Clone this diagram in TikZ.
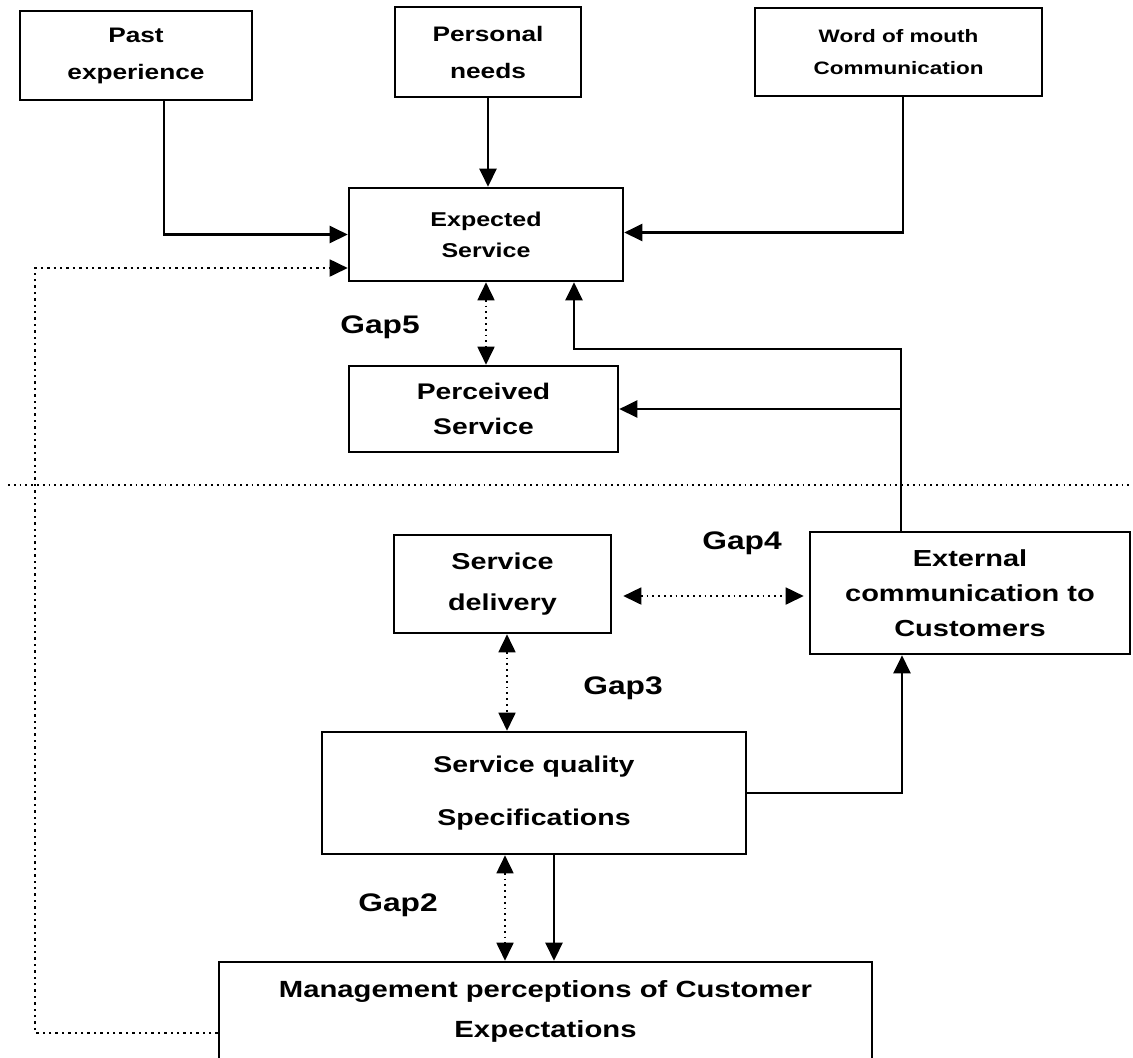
\documentclass[tikz,border=0pt]{standalone}
\usepackage{fontspec}
\setmainfont{Liberation Sans}[FakeStretch=1.25]
\usetikzlibrary{arrows.meta}

\begin{document}
\begin{tikzpicture}[x=0.5pt, y=-0.5pt,
                   every node/.style = {shape          = rectangle,
                                        draw,
                                        line width     = 1.3pt,
                                        inner sep      = 0pt,
                                        align          = center,
                                        font           = \bfseries\fontsize{11.5}{17.5}\selectfont},
                   gap label/.style  = {draw = none,
                                        font = \bfseries\fontsize{12.7}{15}\selectfont},
                   flow edge/.style  = {-{Triangle[length=9pt,width=8.5pt]},
                                        line width = 1.2pt},
                   gap edge/.style   = {{Triangle[length=9pt,width=8.5pt]}-{Triangle[length=9pt,width=8.5pt]},
                                        line width = 0.9pt,
                                        dotted},
                   sep line/.style   = {line width = 0.9pt,
                                        dotted}]
\useasboundingbox (0,0) rectangle (1133,1057);

% the nodes : customer side
\node (past)      at (136,55.5)  [minimum width=116pt, minimum height=44.5pt,
                                  font=\bfseries\fontsize{10.5}{18.5}\selectfont] {Past\\experience};
\node (needs)     at (488,52)    [minimum width=93pt, minimum height=45pt,
                                  font=\bfseries\fontsize{10.5}{18.5}\selectfont] {Personal\\needs};
\node (wom)       at (898.5,52)  [minimum width=143.5pt, minimum height=44pt,
                                  font=\bfseries\fontsize{9}{16}\selectfont] {Word of mouth\\Communication};
  \node (expected)  at (486,234.5) [minimum width=137pt, minimum height=46.5pt,
                                    font=\bfseries\fontsize{10}{15.5}\selectfont] {Expected\\Service};
  \node (perceived) at (483.5,409) [minimum width=134.5pt, minimum height=43pt,
                                    font=\bfseries\fontsize{11.3}{17.5}\selectfont] {Perceived\\Service};

% the nodes : provider side
\node (delivery)  at (502.5,584) [minimum width=108.5pt, minimum height=49pt,
                                  font=\bfseries\fontsize{11.5}{20.5}\selectfont] {Service\\delivery};
\node (external)  at (970,593)   [minimum width=160pt, minimum height=61pt,
                                  font=\bfseries\fontsize{11.6}{17.5}\selectfont] {External\\communication to\\Customers};
  \node (sqs)       at (534,793)   [minimum width=212pt, minimum height=61pt,
                                    font=\bfseries\fontsize{11.4}{26.5}\selectfont] {Service quality\\Specifications};
  \node (mgmt)      at (545.5,1011) [minimum width=326.5pt, minimum height=49pt,
                                     font=\bfseries\fontsize{11.7}{20}\selectfont] {Management perceptions of Customer\\Expectations};

% gap labels
\node[gap label] (gap5) at (380,327) {Gap5};
\node[gap label] (gap4) at (742,543) {Gap4};
\node[gap label] (gap3) at (623,688) {Gap3};
\node[gap label] (gap2) at (398,905) {Gap2};

% helper points
\coordinate (fb)   at (35,268);
\coordinate (ec)   at (901,349);
\coordinate (sepL) at (8,485);
\coordinate (sepR) at (1133,485);

% edges
\draw[flow edge] ([xshift=14pt]past.south) |- (expected.west);
\draw[flow edge] (needs.south) -- (needs.south |- expected.north);
\draw[flow edge] ([xshift=2.25pt]wom.south) |- ([yshift=1pt]expected.east);
\draw[flow edge, dotted, line width=0.9pt] ([yshift=-11pt]mgmt.west) -| (fb) -- (fb -| expected.west);
\draw[gap edge]  (expected.south) -- (expected.south |- perceived.north);
\draw[flow edge] ([xshift=-34.5pt]external.north) -- (ec) -| ([xshift=44pt]expected.south);
\draw[flow edge] (ec |- perceived.east) -- (perceived.east);
\draw[sep line]  (sepL) -- (sepR);
\draw[gap edge, shorten <=5.5pt, shorten >=2.5pt] ([yshift=-6pt]delivery.east) -- ([yshift=-6pt]delivery.east -| external.west);
\draw[gap edge]  ([xshift=2.25pt]delivery.south) -- ([xshift=2.25pt]delivery.south |- sqs.north);
\draw[flow edge] (sqs.east) -| ([xshift=-34pt]external.south);
\draw[gap edge]  ([xshift=-14.5pt]sqs.south) -- ([xshift=-14.5pt]sqs.south |- mgmt.north);
\draw[flow edge] ([xshift=10pt]sqs.south) -- ([xshift=10pt]sqs.south |- mgmt.north);
\end{tikzpicture}
\end{document}
